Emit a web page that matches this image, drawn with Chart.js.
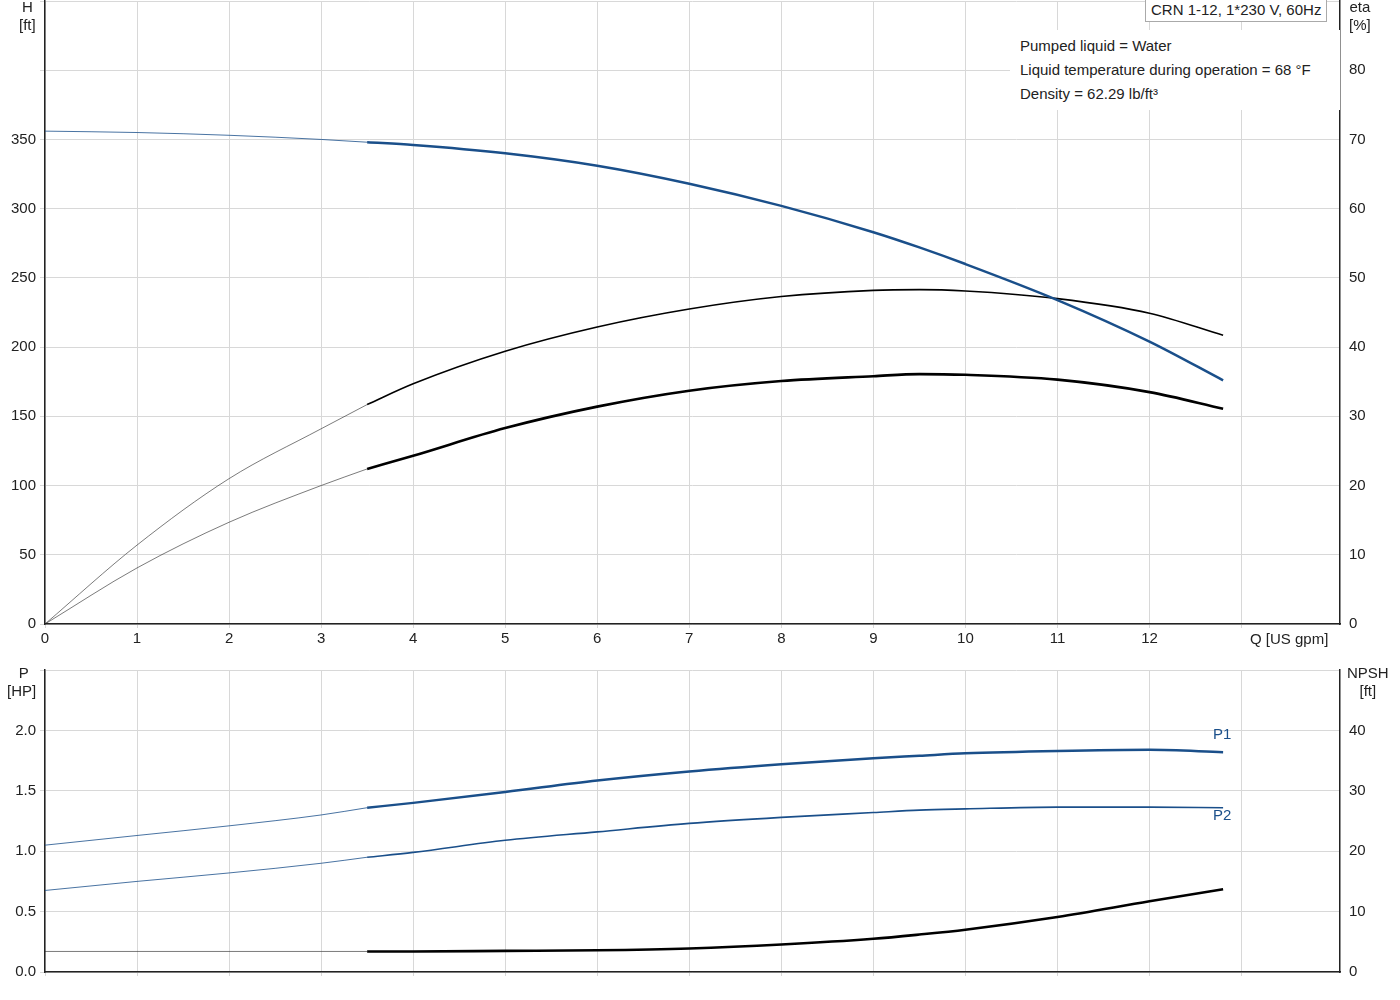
<!DOCTYPE html>
<html><head><meta charset="utf-8">
<script src="https://cdn.jsdelivr.net/npm/chart.js@4"></script>
<style>
body{margin:0;width:1400px;height:1000px;background:#fff;font-family:"Liberation Sans",Arial,sans-serif;font-size:15px;color:#222;position:relative;overflow:hidden}
canvas{position:absolute;left:0}
.t{position:absolute;white-space:nowrap;line-height:18px}
</style></head><body>
<canvas id="c1" width="1400" height="662" style="top:-12px"></canvas>
<canvas id="c2" width="1400" height="343" style="top:657px"></canvas>
<div class="t" style="left:19px;top:-2px;text-align:center">H<br>[ft]</div>
<div class="t" style="left:1349px;top:-2px;text-align:center">eta<br>[%]</div>
<div class="t" style="left:1010px;top:30px;background:#fff;padding:4px 8px 4px 10px;line-height:24px;width:312px">Pumped liquid = Water<br>Liquid temperature during operation = 68 °F<br>Density = 62.29 lb/ft³</div>
<div class="t" style="left:1145px;top:-1px;background:#fff;border:1px solid #aaa;border-top:none;padding:2px 5px">CRN 1-12, 1*230 V, 60Hz</div>
<div class="t" style="left:1250px;top:630px;background:#fff">Q [US gpm]</div>
<div class="t" style="left:7px;top:664px;text-align:center">&nbsp;P<br>[HP]</div>
<div class="t" style="left:1347px;top:664px;text-align:center">NPSH<br>[ft]</div>
<div class="t" style="left:1213px;top:725px;color:#1a4f8a">P1</div>
<div class="t" style="left:1213px;top:806px;color:#1a4f8a">P2</div>
<script>
const qThin=[0,1,2,3,3.5];
const qFull=[3.5,4,5,6,7,8,9,9.5,10,11,12,12.8];
const hThin=[356,355,353,350,348];
const hFull=[348,346,340,331,318,302,283,272,260,234,204,176];
const eta1Thin=[0,11.4,21,28.2,31.7];
const eta1Full=[31.7,34.7,39.4,42.9,45.5,47.3,48.2,48.3,48.1,47,44.9,41.7];
const eta2Thin=[0,8.1,14.7,20,22.4];
const eta2Full=[22.4,24.3,28.3,31.4,33.7,35.1,35.8,36.1,36,35.3,33.5,31.1];
const p1Thin=[1.05,1.13,1.21,1.3,1.36];
const p1Full=[1.36,1.4,1.49,1.585,1.66,1.72,1.77,1.79,1.81,1.83,1.84,1.82];
const p2Thin=[0.675,0.75,0.82,0.9,0.95];
const p2Full=[0.95,0.99,1.09,1.16,1.23,1.28,1.32,1.34,1.35,1.365,1.365,1.36];
const npshThin=[3.4,3.4,3.4,3.4,3.4];
const npshFull=[3.4,3.4,3.5,3.6,3.9,4.55,5.5,6.2,7,9.1,11.7,13.7];
const BLUE='#1a4f8a';
const pts=(x,y)=>x.map((v,i)=>({x:v,y:y[i]}));
const ds=(x,y,col,w,axis)=>({data:pts(x,y),borderColor:col,borderWidth:w,pointRadius:0,cubicInterpolationMode:'monotone',fill:false,yAxisID:axis});
const font={family:'"Liberation Sans",Arial,sans-serif',size:15};
const grid={color:'#d8d8d8',lineWidth:1};
function xScale(labels,h){return {type:'linear',min:0,max:14.07,afterBuildTicks:s=>{s.ticks=[];for(let i=0;i<=13;i++)s.ticks.push({value:i});},
 ticks:{display:labels,color:'#222',font,padding:2,maxRotation:0,callback:v=>v<=12?v:''},grid:{...grid,drawTicks:true,tickLength:4},border:{color:'#222',width:1.5},afterFit:s=>{s.height=h;}};}
function yScale(pos,min,max,step,hideTop,w){return {position:pos,type:'linear',min,max,afterBuildTicks:s=>{s.ticks=[];for(let v=min;v<=max+1e-9;v+=step)s.ticks.push({value:+v.toFixed(2)});},
 ticks:{color:'#222',font,padding:4,callback:v=>v>hideTop+1e-9?'':(step<1?v.toFixed(1):v)},grid:{...grid,display:pos==='left',drawTicks:true,tickLength:5},border:{color:'#222',width:1.5},afterFit:s=>{s.width=w;}};}
const common={responsive:false,animation:false,plugins:{legend:{display:false},tooltip:{enabled:false}}};
new Chart(document.getElementById('c1'),{type:'line',data:{datasets:[
 ds(qThin,hThin,BLUE,0.8,'y'),ds(qFull,hFull,BLUE,2.5,'y'),
 ds(qThin,eta1Thin,'#222',0.6,'y2'),ds(qFull,eta1Full,'#000',1.6,'y2'),
 ds(qThin,eta2Thin,'#222',0.6,'y2'),ds(qFull,eta2Full,'#000',2.6,'y2')]},
 options:{...common,layout:{padding:{top:0,bottom:0,left:0,right:0}},scales:{x:xScale(true,26),y:yScale('left',0,450,50,350,45),y2:yScale('right',0,90,10,80,60)}}});
new Chart(document.getElementById('c2'),{type:'line',data:{datasets:[
 ds(qThin,p1Thin,BLUE,0.8,'y'),ds(qFull,p1Full,BLUE,2.5,'y'),
 ds(qThin,p2Thin,BLUE,0.8,'y'),ds(qFull,p2Full,BLUE,1.6,'y'),
 ds(qThin,npshThin,'#222',0.6,'y2'),ds(qFull,npshFull,'#000',2.6,'y2')]},
 options:{...common,layout:{padding:{top:0}},scales:{x:xScale(false,28),y:yScale('left',0,2.5,0.5,2.0,45),y2:yScale('right',0,50,10,40,60)}}});
</script></body></html>
